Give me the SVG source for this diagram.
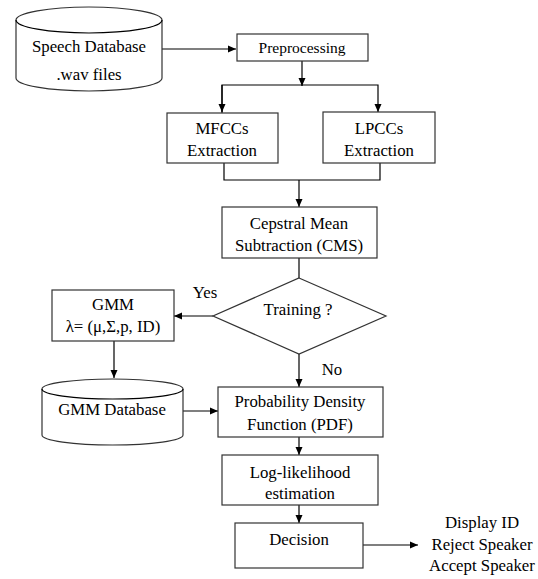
<svg xmlns="http://www.w3.org/2000/svg" width="538" height="579" viewBox="0 0 538 579">
<style>
.n{fill:#fff;stroke:#333;stroke-width:1.2}
.c{fill:none;stroke:#000;stroke-width:1.2}
text{font-family:"Liberation Serif","Times New Roman",serif;font-size:16.8px;fill:#000;text-anchor:middle}
</style>
<defs>
<marker id="a" markerWidth="8" markerHeight="8" refX="8" refY="4" orient="auto" markerUnits="userSpaceOnUse">
<path d="M0,0.5 L8,4 L0,7.5 Z" fill="#000"/>
</marker>
</defs>
<rect width="538" height="579" fill="#fff"/>
<g id="connectors">
<path class="c" d="M162,49 H236" marker-end="url(#a)"/>
<path class="c" d="M302,61 V86" marker-end="url(#a)"/>
<path class="c" d="M222,113 V85 H378 V112" marker-end="url(#a)"/>
<path class="c" d="M222,85 V112" marker-end="url(#a)"/>
<path class="c" d="M224,163 V180 H380 V163"/>
<path class="c" d="M299,180 V207" marker-end="url(#a)"/>
<path class="c" d="M299,258 V278"/>
<path class="c" d="M213,316 H174" marker-end="url(#a)"/>
<path class="c" d="M114,341 V378" marker-end="url(#a)"/>
<path class="c" d="M183,411 H218" marker-end="url(#a)"/>
<path class="c" d="M299,354 V387" marker-end="url(#a)"/>
<path class="c" d="M299,437 V455" marker-end="url(#a)"/>
<path class="c" d="M299,505 V523" marker-end="url(#a)"/>
<path class="c" d="M363,545 H418" marker-end="url(#a)"/>
<text x="205" y="298">Yes</text>
<text x="332" y="375">No</text>
</g>
<g id="speech-db">
<path class="n" d="M16,20 A73,13 0 0 1 162,20 V78 A73,13 0 0 1 16,78 Z"/>
<path class="c" d="M16,20 A73,13 0 0 0 162,20" stroke="#333"/>
<text x="89" y="52">Speech Database</text>
<text x="89" y="80">.wav files</text>
</g>
<g id="preprocessing">
<rect class="n" x="237" y="34" width="131" height="27"/>
<text x="302" y="53" style="font-size:15.5px">Preprocessing</text>
</g>
<g id="mfcc">
<rect class="n" x="167" y="113" width="111" height="50"/>
<text x="222" y="134">MFCCs</text>
<text x="222" y="156">Extraction</text>
</g>
<g id="lpcc">
<rect class="n" x="323" y="112" width="112" height="51"/>
<text x="379" y="134">LPCCs</text>
<text x="379" y="156">Extraction</text>
</g>
<g id="cms">
<rect class="n" x="222" y="207" width="155" height="51"/>
<text x="299" y="229">Cepstral Mean</text>
<text x="299" y="251">Subtraction (CMS)</text>
</g>
<g id="training">
<path class="n" d="M299,278 L386,316 L299,354 L213,316 Z"/>
<text x="298" y="315">Training ?</text>
</g>
<g id="gmm">
<rect class="n" x="52" y="290" width="122" height="51"/>
<text x="113" y="310">GMM</text>
<text x="113" y="332">λ= (μ,Σ,p, ID)</text>
</g>
<g id="gmm-db">
<path class="n" d="M42,389 A70.5,10 0 0 1 183,389 V435 A70.5,10 0 0 1 42,435 Z"/>
<path class="c" d="M42,389 A70.5,10 0 0 0 183,389" stroke="#333"/>
<text x="112" y="415">GMM Database</text>
</g>
<g id="pdf">
<rect class="n" x="218" y="387" width="165" height="50"/>
<text x="300" y="407">Probability Density</text>
<text x="300" y="430">Function (PDF)</text>
</g>
<g id="loglik">
<rect class="n" x="222" y="455" width="156" height="50"/>
<text x="300" y="478">Log-likelihood</text>
<text x="300" y="499">estimation</text>
</g>
<g id="decision">
<rect class="n" x="235" y="523" width="128" height="45"/>
<text x="299" y="545">Decision</text>
</g>
<g id="outputs">
<text x="482" y="528">Display ID</text>
<text x="482" y="550">Reject Speaker</text>
<text x="482" y="571">Accept Speaker</text>
</g>
</svg>
